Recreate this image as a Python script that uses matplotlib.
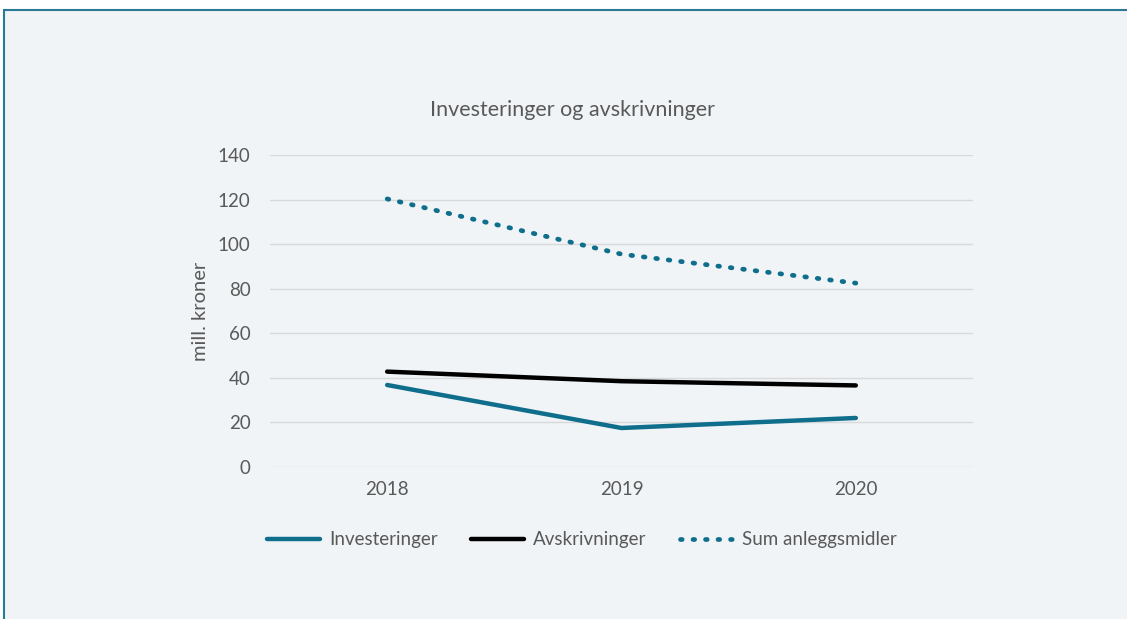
import matplotlib.pyplot as plt
from matplotlib.patches import Rectangle

years = ['2018', '2019', '2020']
investeringer = [36.8, 17.5, 22.0]
avskrivninger = [42.8, 38.5, 36.6]
sum_anleggsmidler = [120.3, 95.5, 82.5]

plt.rcParams['font.family'] = ['Lato', 'DejaVu Sans']

teal = '#0E6E8C'
grey = '#595959'


def main():
    fig = plt.figure(figsize=(11.27, 6.19), dpi=100, facecolor='white')
    # panel background with border on top and left
    fig.patches.append(Rectangle((4 / 1127, -0.1), 1.2, (619 - 10) / 619 + 0.1,
                                 transform=fig.transFigure, facecolor='#F0F4F7',
                                 edgecolor='#2A7A96', linewidth=1.5, zorder=-10))

    ax = fig.add_axes([270 / 1127, 1 - 467 / 619, 703 / 1127, 312 / 619])
    ax.set_facecolor('none')
    x = range(len(years))
    ax.plot(x, investeringer, color=teal, lw=3.2, solid_capstyle='round', label='Investeringer')
    ax.plot(x, avskrivninger, color='black', lw=3.2, solid_capstyle='round', label='Avskrivninger')
    ax.plot(x, sum_anleggsmidler, color=teal, lw=3.4, linestyle=(0, (0.35, 2.3)),
            dash_capstyle='round', label='Sum anleggsmidler')

    ax.set_xlim(-0.5, 2.5)
    ax.set_ylim(0, 140)
    ax.set_yticks(range(0, 141, 20))
    ax.set_xticks(list(x))
    ax.set_xticklabels(years)
    ax.grid(axis='y', color='#D9D9D9', lw=1)
    ax.set_axisbelow(True)
    for s in ax.spines.values():
        s.set_visible(False)
    ax.tick_params(length=0, labelsize=13.5, colors=grey, pad=14)
    ax.tick_params(axis='x', pad=10)
    ax.set_ylabel('mill. kroner', fontsize=14.5, color=grey, labelpad=6)
    fig.text(572 / 1127, 1 - 110 / 619, 'Investeringer og avskrivninger',
             fontsize=15.5, color=grey, ha='center', va='center')

    leg = ax.legend(loc='center', bbox_to_anchor=(582 / 1127, 1 - 540 / 619), ncol=3,
                    bbox_transform=fig.transFigure,
                    frameon=False, fontsize=13.5, handlelength=2.8, columnspacing=1.8,
                    handletextpad=0.5)
    for t in leg.get_texts():
        t.set_color(grey)

    fig.savefig('out.png', dpi=100, facecolor=fig.get_facecolor())


if __name__ == "__main__":
    main()
